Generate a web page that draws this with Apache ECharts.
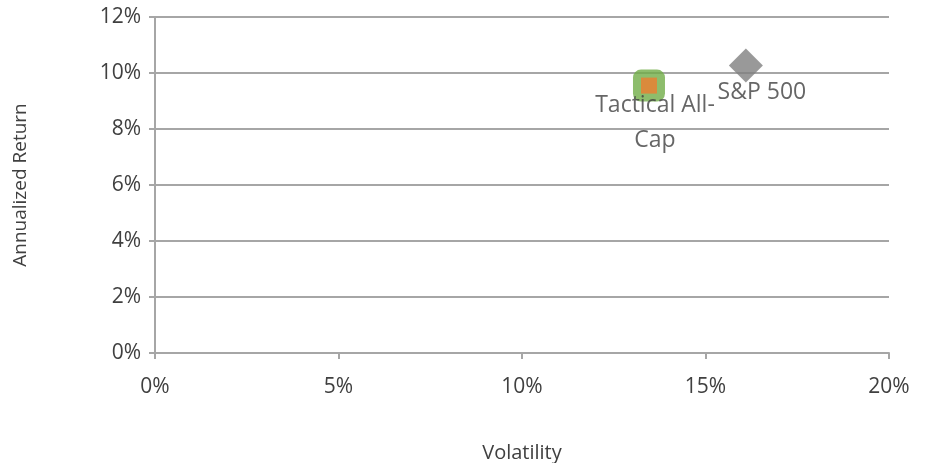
<!DOCTYPE html>
<html>
<head>
<meta charset="utf-8">
<script src="https://cdn.jsdelivr.net/npm/echarts@6/dist/echarts.min.js"></script>
<style>
  html, body { margin: 0; padding: 0; background: #fff; }
  #chart { width: 929px; height: 463px; }
</style>
</head>
<body>
<div id="chart"></div>
<script>
// volatility (%) and annualized return (%)
const tactical = [13.46, 9.55]
const sp500 = [16.1, 10.27]
const xTicks = [0, 5, 10, 15, 20]
const yTicks = [0, 2, 4, 6, 8, 10, 12]

const font = 'Open Sans'
const textColor = '#404040'
const lineColor = '#a6a6a6'

const chart = echarts.init(document.getElementById('chart'), null, { renderer: 'canvas' })

chart.setOption({
  animation: false,
  grid: { left: 155, right: 40, top: 17, bottom: 110, outerBoundsMode: 'none', containLabel: false },
  xAxis: {
    type: 'value',
    min: xTicks[0],
    max: xTicks[xTicks.length - 1],
    interval: 5,
    name: 'Volatility',
    nameLocation: 'middle',
    nameGap: 90,
    nameTextStyle: { fontFamily: font, fontSize: 20, color: textColor },
    axisLine: { lineStyle: { color: lineColor, width: 2 } },
    axisTick: { show: true, length: 6, lineStyle: { color: lineColor, width: 2 } },
    axisLabel: { fontFamily: font, fontSize: 21, color: textColor, margin: 24, formatter: v => v + '%' },
    splitLine: { show: false }
  },
  yAxis: {
    type: 'value',
    min: yTicks[0],
    max: yTicks[yTicks.length - 1],
    interval: 2,
    name: 'Annualized Return',
    nameLocation: 'middle',
    nameGap: 125,
    nameTextStyle: { fontFamily: font, fontSize: 19, color: textColor },
    axisLine: { show: true, lineStyle: { color: lineColor, width: 2 } },
    axisTick: { show: true, length: 6, lineStyle: { color: lineColor, width: 2 } },
    axisLabel: { fontFamily: font, fontSize: 21, color: textColor, margin: 14, formatter: v => v + '%' },
    splitLine: { show: true, lineStyle: { color: lineColor, width: 2 } }
  },
  series: [
    {
      name: 'Tactical All-Cap',
      type: 'scatter',
      symbol: 'roundRect',
      symbolSize: 32,
      itemStyle: { color: '#70ad47' },
      data: [tactical],
      z: 2
    },
    {
      name: 'Tactical All-Cap inner',
      type: 'scatter',
      symbol: 'rect',
      symbolSize: 16,
      itemStyle: { color: '#ed7d31' },
      data: [tactical],
      z: 3,
      label: {
        show: true,
        position: 'inside',
        offset: [6, 37],
        formatter: 'Tactical All-\nCap',
        fontFamily: font,
        fontSize: 23,
        lineHeight: 35,
        color: textColor,
        textBorderWidth: 0,
        align: 'center',
        verticalAlign: 'middle'
      }
    },
    {
      name: 'S&P 500',
      type: 'scatter',
      symbol: 'diamond',
      symbolSize: 34,
      itemStyle: { color: '#7f7f7f' },
      data: [sp500],
      z: 2,
      label: {
        show: true,
        position: 'inside',
        offset: [16, 27],
        formatter: 'S&P 500',
        fontFamily: font,
        fontSize: 23,
        color: textColor,
        textBorderWidth: 0,
        align: 'center',
        verticalAlign: 'middle'
      }
    }
  ]
})
</script>
</body>
</html>
